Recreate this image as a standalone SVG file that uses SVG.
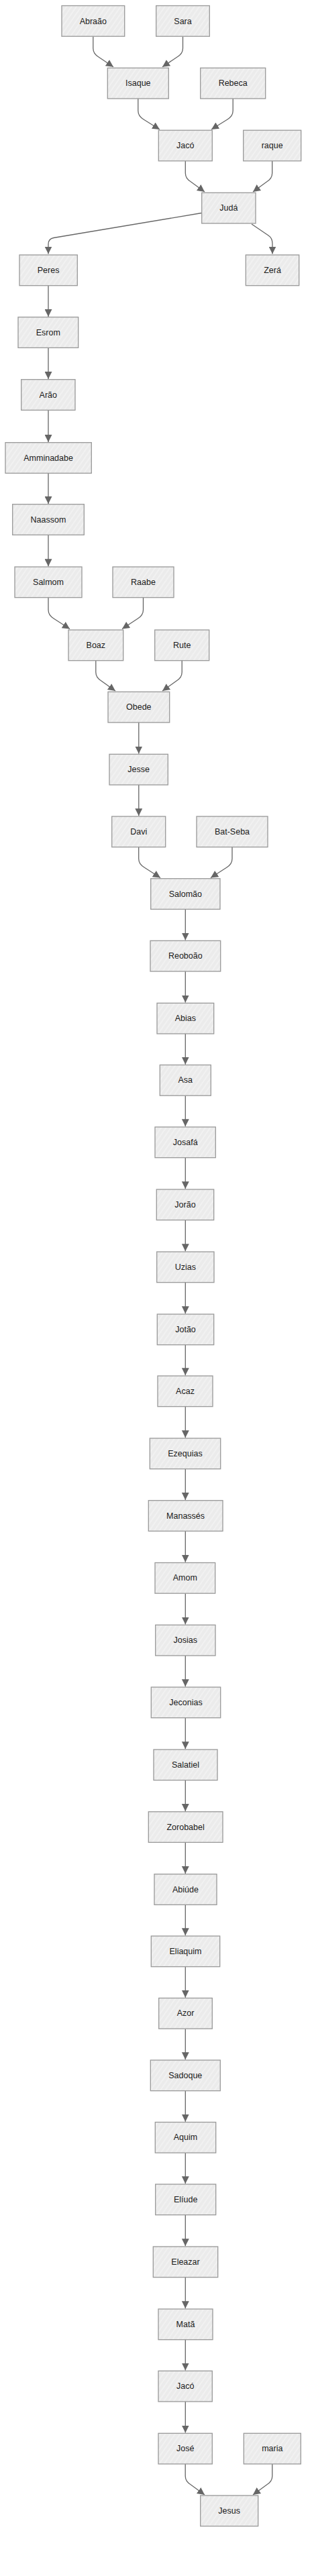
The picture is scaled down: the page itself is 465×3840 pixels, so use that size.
<svg xmlns="http://www.w3.org/2000/svg" width="465" height="3840" viewBox="0 0 465 3840">
<defs>
<pattern id="hatch" patternUnits="userSpaceOnUse" width="6" height="6" patternTransform="rotate(35)">
<rect width="6" height="6" fill="#ebebeb"/>
<line x1="3" y1="0" x2="3" y2="6" stroke="#f8f8f8" stroke-width="1"/>
</pattern>
<marker id="arr" markerUnits="userSpaceOnUse" markerWidth="11" markerHeight="11" refX="10" refY="5" orient="auto" viewBox="0 0 10 10">
<path d="M0,0 L10,5 L0,10 z" fill="#666"/>
</marker>
</defs>
<style>
.node rect{fill:url(#hatch);stroke:#999;stroke-width:1.3}
.node text{font-family:"Liberation Sans",Arial,sans-serif;font-size:12.5px;fill:#1a1a1a;text-anchor:middle;dominant-baseline:central}
#edges path{fill:none;stroke:#666;stroke-width:1.3;marker-end:url(#arr)}
</style>
<rect width="465" height="3840" fill="#fff"/>
<g id="edges">
<path d="M138.8,54.2 L138.8,72 Q138.8,80 147,85 L169,99.8"/>
<path d="M272.5,54.2 L272.5,72 Q272.5,80 264,85 L242,99.8"/>
<path d="M205.8,147 L205.8,165 Q205.8,173 214,178 L238,193"/>
<path d="M347.2,147 L347.2,165 Q347.2,173 339,178 L315,193"/>
<path d="M276.3,240 L276.3,258 Q276.3,266 284.5,271 L305,286"/>
<path d="M405.7,240 L405.7,258 Q405.7,266 397.5,271 L377,286"/>
<path d="M300.5,317.5 L80,354.5 Q72,356 72,364 L72,378.5"/>
<path d="M375,334 L400,351 Q406,355 406,363 L406,378.5"/>
<path d="M72,426 L72,472"/>
<path d="M72,518.7 L72,565"/>
<path d="M72,611.5 L72,659"/>
<path d="M72,705.5 L72,751"/>
<path d="M72,797.5 L72,844.2"/>
<path d="M72,891 L72,909 Q72,917 80,922 L104,937.5"/>
<path d="M213.5,891 L213.5,909 Q213.5,917 205.5,922 L182,937.5"/>
<path d="M142.8,984.5 L142.8,1002 Q142.8,1010 151,1015 L172,1030"/>
<path d="M271.2,984.5 L271.2,1002 Q271.2,1010 263,1015 L242,1030"/>
<path d="M206.8,1077 L206.8,1123.5"/>
<path d="M206.8,1170 L206.8,1216.2"/>
<path d="M206.7,1262.5 L206.7,1280 Q206.7,1288 215,1293 L239,1308.5"/>
<path d="M346,1262.5 L346,1280 Q346,1288 338,1293 L314,1308.5"/>
<path d="M276.3,1355.4 L276.3,1401.5"/>
<path d="M276.3,1448 L276.3,1494.5"/>
<path d="M276.3,1541 L276.3,1586.7"/>
<path d="M276.3,1633.2 L276.3,1679.2"/>
<path d="M276.3,1725.7 L276.3,1772.2"/>
<path d="M276.3,1818.7 L276.3,1865.2"/>
<path d="M276.3,1911.7 L276.3,1958.2"/>
<path d="M276.3,2004.7 L276.3,2050.2"/>
<path d="M276.3,2096.7 L276.3,2143.2"/>
<path d="M276.3,2189.7 L276.3,2235.9"/>
<path d="M276.3,2282.4 L276.3,2328.7"/>
<path d="M276.3,2375.2 L276.3,2421.5"/>
<path d="M276.3,2468 L276.3,2514.2"/>
<path d="M276.3,2560.7 L276.3,2607.2"/>
<path d="M276.3,2653.7 L276.3,2699.9"/>
<path d="M276.3,2746.4 L276.3,2792.9"/>
<path d="M276.3,2839.4 L276.3,2885.2"/>
<path d="M276.3,2931.7 L276.3,2977.7"/>
<path d="M276.3,3024.2 L276.3,3070.2"/>
<path d="M276.3,3116.7 L276.3,3162.7"/>
<path d="M276.3,3209.2 L276.3,3255.2"/>
<path d="M276.3,3301.7 L276.3,3348.2"/>
<path d="M276.3,3394.7 L276.3,3441.2"/>
<path d="M276.3,3487.7 L276.3,3533.5"/>
<path d="M276.3,3580 L276.3,3626.5"/>
<path d="M276.2,3673 L276.2,3691 Q276.2,3699 284.5,3704 L305,3719"/>
<path d="M405.8,3673 L405.8,3691 Q405.8,3699 397.5,3704 L377,3719"/>
</g>
<g id="n-abraao" class="node"><rect x="92" y="8.5" width="93.7" height="45.7"/><text x="138.8" y="31.5">Abraão</text></g>
<g id="n-sara" class="node"><rect x="232.7" y="8.5" width="79.6" height="45.7"/><text x="272.5" y="31.5">Sara</text></g>
<g id="n-isaque" class="node"><rect x="160.3" y="101.3" width="91" height="45.7"/><text x="205.8" y="124.2">Isaque</text></g>
<g id="n-rebeca" class="node"><rect x="298.7" y="101.3" width="97" height="45.7"/><text x="347.2" y="124.2">Rebeca</text></g>
<g id="n-jaco1" class="node"><rect x="236.3" y="194.2" width="80" height="45.7"/><text x="276.3" y="217">Jacó</text></g>
<g id="n-raque" class="node"><rect x="362.7" y="194.2" width="86" height="45.7"/><text x="405.7" y="217">raque</text></g>
<g id="n-juda" class="node"><rect x="300.7" y="287.3" width="80.3" height="45.7"/><text x="340.8" y="310">Judá</text></g>
<g id="n-peres" class="node"><rect x="29" y="380" width="86.3" height="45.7"/><text x="72.1" y="403">Peres</text></g>
<g id="n-zera" class="node"><rect x="366.3" y="380" width="79.4" height="45.7"/><text x="406" y="403">Zerá</text></g>
<g id="n-esrom" class="node"><rect x="27" y="472.7" width="89.7" height="45.7"/><text x="71.8" y="495.6">Esrom</text></g>
<g id="n-arao" class="node"><rect x="31.7" y="565.7" width="80.3" height="45.7"/><text x="71.8" y="588.6">Arão</text></g>
<g id="n-amminadabe" class="node"><rect x="8" y="659.7" width="128.3" height="45.7"/><text x="72.1" y="682.6">Amminadabe</text></g>
<g id="n-naassom" class="node"><rect x="18.7" y="751.7" width="106.6" height="45.7"/><text x="72" y="774.6">Naassom</text></g>
<g id="n-salmom" class="node"><rect x="22" y="845" width="100" height="45.7"/><text x="72" y="867.9">Salmom</text></g>
<g id="n-raabe" class="node"><rect x="168" y="845" width="91" height="45.7"/><text x="213.5" y="867.9">Raabe</text></g>
<g id="n-boaz" class="node"><rect x="102" y="939" width="81.7" height="45.7"/><text x="142.8" y="961.9">Boaz</text></g>
<g id="n-rute" class="node"><rect x="230.7" y="939" width="81" height="45.7"/><text x="271.2" y="961.9">Rute</text></g>
<g id="n-obede" class="node"><rect x="161" y="1031.3" width="91.7" height="45.7"/><text x="206.8" y="1054.2">Obede</text></g>
<g id="n-jesse" class="node"><rect x="163" y="1124.3" width="87.3" height="45.7"/><text x="206.7" y="1147.2">Jesse</text></g>
<g id="n-davi" class="node"><rect x="166.7" y="1217" width="80" height="45.7"/><text x="206.7" y="1239.9">Davi</text></g>
<g id="n-batseba" class="node"><rect x="293" y="1217" width="106" height="45.7"/><text x="346" y="1239.9">Bat-Seba</text></g>
<g id="n-salomao" class="node"><rect x="224.7" y="1309.7" width="103.3" height="45.7"/><text x="276.3" y="1332.6">Salomão</text></g>
<g id="n-reoboao" class="node"><rect x="224" y="1402.3" width="104.7" height="45.7"/><text x="276.3" y="1425.2">Reoboão</text></g>
<g id="n-abias" class="node"><rect x="234" y="1495.3" width="84.7" height="45.7"/><text x="276.3" y="1518.2">Abias</text></g>
<g id="n-asa" class="node"><rect x="238.3" y="1587.5" width="76" height="45.7"/><text x="276.3" y="1610.4">Asa</text></g>
<g id="n-josafa" class="node"><rect x="231" y="1680" width="90.3" height="45.7"/><text x="276.2" y="1702.9">Josafá</text></g>
<g id="n-jorao" class="node"><rect x="233.3" y="1773" width="85.4" height="45.7"/><text x="276" y="1795.9">Jorão</text></g>
<g id="n-uzias" class="node"><rect x="233.7" y="1866" width="85.3" height="45.7"/><text x="276.3" y="1888.9">Uzias</text></g>
<g id="n-jotao" class="node"><rect x="234.3" y="1959" width="84.4" height="45.7"/><text x="276.5" y="1981.9">Jotão</text></g>
<g id="n-acaz" class="node"><rect x="235" y="2051" width="82" height="45.7"/><text x="276" y="2073.9">Acaz</text></g>
<g id="n-ezequias" class="node"><rect x="223.3" y="2144" width="105.4" height="45.7"/><text x="276" y="2166.9">Ezequias</text></g>
<g id="n-manasses" class="node"><rect x="221.3" y="2236.7" width="110.7" height="45.7"/><text x="276.6" y="2259.6">Manassés</text></g>
<g id="n-amom" class="node"><rect x="231" y="2329.5" width="89.7" height="45.7"/><text x="275.8" y="2352.4">Amom</text></g>
<g id="n-josias" class="node"><rect x="231.7" y="2422.3" width="89.3" height="45.7"/><text x="276.3" y="2445.2">Josias</text></g>
<g id="n-jeconias" class="node"><rect x="225.3" y="2515" width="103.4" height="45.7"/><text x="277" y="2537.9">Jeconias</text></g>
<g id="n-salatiel" class="node"><rect x="229" y="2608" width="95" height="45.7"/><text x="276.5" y="2630.9">Salatiel</text></g>
<g id="n-zorobabel" class="node"><rect x="221.3" y="2700.7" width="110.7" height="45.7"/><text x="276.6" y="2723.6">Zorobabel</text></g>
<g id="n-abiude" class="node"><rect x="230" y="2793.7" width="93" height="45.7"/><text x="276.5" y="2816.6">Abiúde</text></g>
<g id="n-eliaquim" class="node"><rect x="225.3" y="2886" width="102.4" height="45.7"/><text x="276.5" y="2908.9">Eliaquim</text></g>
<g id="n-azor" class="node"><rect x="236.7" y="2978.5" width="79.6" height="45.7"/><text x="276.5" y="3001.4">Azor</text></g>
<g id="n-sadoque" class="node"><rect x="224.3" y="3071" width="104" height="45.7"/><text x="276.3" y="3093.9">Sadoque</text></g>
<g id="n-aquim" class="node"><rect x="231.3" y="3163.5" width="90.4" height="45.7"/><text x="276.5" y="3186.4">Aquim</text></g>
<g id="n-eliude" class="node"><rect x="231.7" y="3256" width="90" height="45.7"/><text x="276.7" y="3278.9">Elíude</text></g>
<g id="n-eleazar" class="node"><rect x="228.3" y="3349" width="96.4" height="45.7"/><text x="276.5" y="3371.9">Eleazar</text></g>
<g id="n-mata" class="node"><rect x="236" y="3442" width="81" height="45.7"/><text x="276.5" y="3464.9">Matã</text></g>
<g id="n-jaco2" class="node"><rect x="236" y="3534.3" width="80.3" height="45.7"/><text x="276.2" y="3557.2">Jacó</text></g>
<g id="n-jose" class="node"><rect x="236" y="3627.3" width="80.3" height="45.7"/><text x="276.2" y="3650.2">José</text></g>
<g id="n-maria" class="node"><rect x="363.3" y="3627.3" width="85" height="45.7"/><text x="405.8" y="3650.2">maria</text></g>
<g id="n-jesus" class="node"><rect x="298.7" y="3720" width="86" height="45.7"/><text x="341.7" y="3742.9">Jesus</text></g>
</svg>
